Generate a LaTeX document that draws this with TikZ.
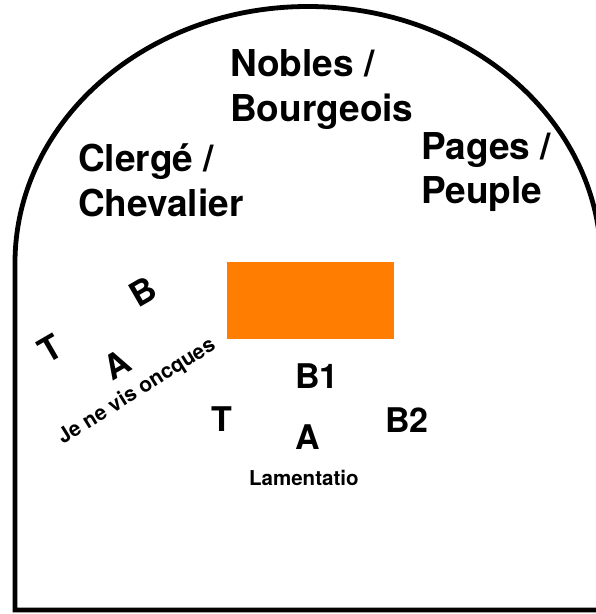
\documentclass[tikz,border=0pt]{standalone}
\usepackage{fontspec}
\setmainfont{TeX Gyre Heros}
\definecolor{stageorange}{RGB}{255,125,0}
\begin{document}
\begin{tikzpicture}[x=1pt,y=1pt,
  head/.style={anchor=base west, inner sep=0pt, font=\fontsize{37}{44}\selectfont\bfseries},
  letter/.style={anchor=base west, inner sep=0pt, font=\fontsize{34}{40}\selectfont\bfseries},
  tilted/.style={anchor=center, inner sep=0pt, rotate=30, font=\fontsize{34}{40}\selectfont\bfseries},
  small/.style={inner sep=0pt, font=\fontsize{20.5}{24}\selectfont\bfseries}]
\useasboundingbox (0,0) rectangle (596,614);
\begin{scope}
\clip (0,0) rectangle (596,614);
\draw[line width=4.8pt, line join=miter] (15,4) -- (15,351)
  arc[start angle=180, end angle=0, x radius=293, y radius=256.5]
  -- (601,4) -- cycle;
\end{scope}
\fill[stageorange] (227,275) rectangle (394,352);
\node[head] (nob1) at (230,537.3) {Nobles /};
\node[head] (nob2) at (230,492.3) {Bourgeois};
\node[head] (cle1) at (78,442.3) {Clergé /};
\node[head] (cle2) at (78,397.3) {Chevalier};
\node[head] (pag1) at (421,454) {Pages /};
\node[head] (pag2) at (421,410) {Peuple};
\node[letter] (b1) at (295,225.7) {B1};
\node[letter] (t2) at (211.7,182.3) {T};
\node[letter] (b2) at (385,181) {B2};
\node[letter] (a2) at (295,164) {A};
\node[small, anchor=base west] (lam) at (249,128) {Lamentatio};
\node[tilted] (bl) at (143.3,322.3) {B};
\node[tilted] (tl) at (50,265.7) {T};
\node[tilted] (al) at (116.7,249) {A};
\node[small, anchor=center, rotate=32, font=\fontsize{21}{25}\selectfont\bfseries] (je) at (137,222) {Je ne vis oncques};
\end{tikzpicture}
\end{document}
